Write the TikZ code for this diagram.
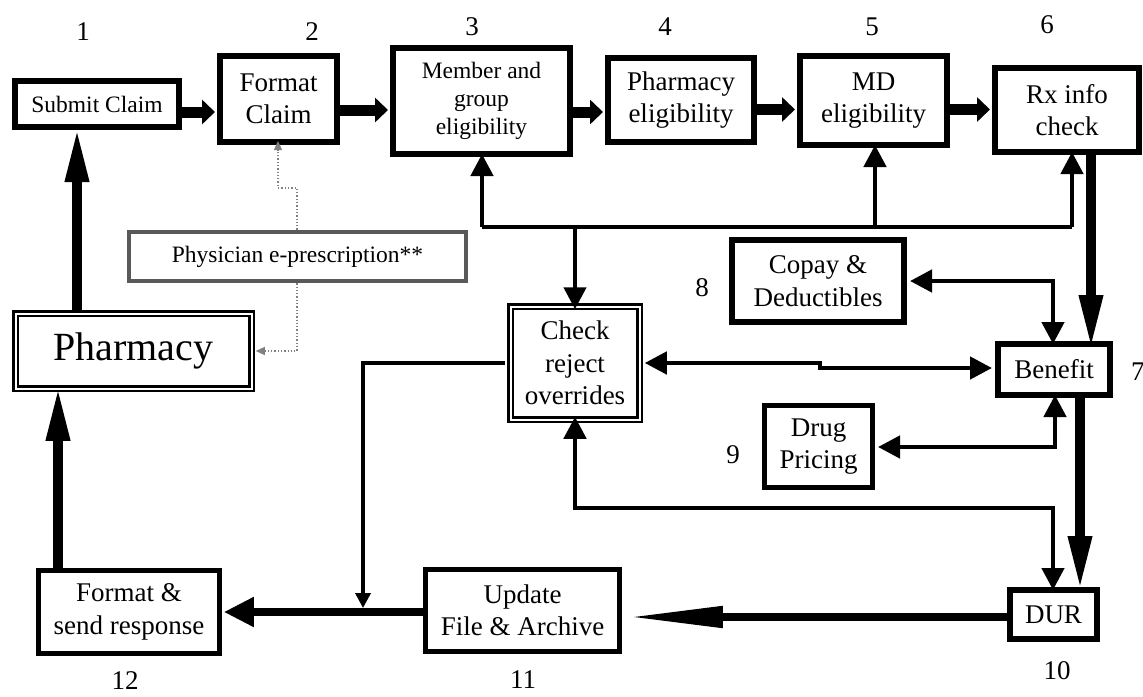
\documentclass[tikz,border=0pt]{standalone}
\usepackage{fontspec}
\setmainfont{Liberation Serif}
\usetikzlibrary{arrows.meta}

\begin{document}
\begin{tikzpicture}[x=1pt,y=-1pt,
  txt/.style={font=\fontsize{27}{32.5}\selectfont},
  smalltxt/.style={font=\fontsize{23.5}{28}\selectfont},
  box/.style={draw, line width=6pt, align=center, inner sep=0pt, txt},
  lbox/.style={box, line width=4.5pt},
  dbox/.style={draw, line width=2.5pt, double=white, double distance=2pt, align=center, inner sep=0pt, txt},
  gbox/.style={draw=black!65, line width=4.5pt, align=center, inner sep=0pt, smalltxt},
  num/.style={font=\fontsize{27}{30}\selectfont, inner sep=0pt},
  flow/.style={line width=11pt, -{Triangle[length=13pt,width=24pt]}},
  trunk/.style={line width=9.5pt, -{Triangle[length=54pt,width=22pt]}},
  link/.style={line width=4.5pt, {Triangle[length=22pt,width=22pt]}-{Triangle[length=22pt,width=22pt]}},
  onelink/.style={line width=4.5pt, -{Triangle[length=22pt,width=22pt]}},
  feed/.style={line width=3.5pt, -{Triangle[length=15pt,width=15pt]}},
  eprx/.style={draw=black!50, line width=1.3pt, dotted, -{Triangle[length=9pt,width=8pt,fill=black!50]}},
]
\useasboundingbox (0,0) rectangle (1143,696);

% process boxes
\node[box, smalltxt, minimum width=164pt, minimum height=46pt] (sub) at (97,104) {Submit Claim};
\node[box, minimum width=117pt, minimum height=86pt] (fmt) at (278.5,99) {Format\\Claim};
\node[box, smalltxt, minimum width=177pt, minimum height=106pt] (mem) at (481.5,101) {Member and\\group\\eligibility};
\node[box, minimum width=146pt, minimum height=84pt] (phe) at (681,100) {Pharmacy\\eligibility};
\node[box, minimum width=147pt, minimum height=89pt] (md) at (873.5,100.5) {MD\\eligibility};
\node[box, minimum width=144pt, minimum height=84pt] (rx) at (1067,110) {Rx info\\check};
\node[gbox, minimum width=337pt, minimum height=49pt] (phy) at (297.5,256.5) {Physician e-prescription**};
\node[dbox, font=\fontsize{40}{46}\selectfont, minimum width=236pt, minimum height=75pt] (pha) at (133.5,351) {Pharmacy};
\node[dbox, minimum width=129pt, minimum height=113pt] (chk) at (575,363) {Check\\reject\\overrides};
\node[box, minimum width=172pt, minimum height=82pt] (cop) at (818,281) {Copay \&\\Deductibles};
\node[box, minimum width=112pt, minimum height=51pt] (ben) at (1054,369.5) {Benefit};
\node[box, line width=5pt, minimum width=108pt, minimum height=82pt] (drg) at (818.5,446.5) {Drug\\Pricing};
\node[box, minimum width=87pt, minimum height=49pt] (dur) at (1053.5,614.5) {DUR};
\node[lbox, minimum width=194pt, minimum height=82pt] (upd) at (522.5,610.5) {Update\\File \& Archive};
\node[lbox, minimum width=181pt, minimum height=83pt] (rsp) at (129,612) {Format \&\\send response};

% step numbers
\node[num] (n1) at (83,32) {1};
\node[num] (n2) at (312,32) {2};
\node[num] (n3) at (472,27) {3};
\node[num] (n4) at (665,27) {4};
\node[num] (n5) at (872,27) {5};
\node[num] (n6) at (1047,25) {6};
\node[num, anchor=west] (n7) at (1131,372) {7};
\node[num] (n8) at (702,288) {8};
\node[num] (n9) at (733,455) {9};
\node[num] (n10) at (1057,671) {10};
\node[num] (n11) at (523,680) {11};
\node[num] (n12) at (125,681) {12};

% main claim flow across the top
\draw[flow] (sub.east |- 0,112) -- ([xshift=-2pt]fmt.west |- 0,112);
\draw[flow] (fmt.east |- 0,110) -- ([xshift=-2pt]mem.west |- 0,110);
\draw[flow] (mem.east |- 0,112) -- ([xshift=-2pt]phe.west |- 0,112);
\draw[flow] (phe.east |- 0,109.5) -- ([xshift=-2pt]md.west |- 0,109.5);
\draw[flow] (md.east |- 0,109.5) -- ([xshift=-2pt]rx.west |- 0,109.5);

% pharmacy in and out
\draw[trunk] (pha.north -| 77,0) -- ([yshift=2pt]sub.south -| 77,0);
\draw[trunk] (rsp.north -| 58,0) -- ([yshift=3pt]pha.south -| 58,0);

% e-prescription feeds
\draw[eprx] (phy.north -| 297,0) -- (297,188) -- (278,188) -- ([yshift=4pt]fmt.south -| 278,0);
\draw[eprx] (phy.south -| 297,0) -- (297,351) -- ([xshift=3pt]pha.east |- 0,351);

% reject-override bus
\coordinate (busL) at (482,227);
\coordinate (busR) at (1072,227);
\draw[line width=4.5pt] (busL) -- (busR);
\draw[onelink] (busL) -- ([yshift=3pt]mem.south -| busL);
\draw[onelink] (875,227) -- ([yshift=3pt]md.south -| 875,0);
\draw[onelink] (busR) -- ([yshift=3pt]rx.south -| busR);
\draw[onelink] (575,227) -- ([yshift=-4pt]chk.north);

% benefit step
\draw[trunk] (rx.south -| 1091,0) -- ([yshift=-8pt]ben.north -| 1091,0);
\draw[link] ([xshift=3pt]cop.east |- 0,281) -- (1053,281) -- ([yshift=-3pt]ben.north -| 1053,0);
\draw[link] ([xshift=4pt]chk.east) -- (820,363) -- (820,368) -- ([xshift=-3pt]ben.west |- 0,368);
\draw[link] ([xshift=3pt]drg.east |- 0,447) -- (1055,447) -- ([yshift=3pt]ben.south -| 1055,0);
\draw[link] ([yshift=4pt]chk.south) -- (575,508) -- (1053,508) -- ([yshift=-3pt]dur.north -| 1053,0);
\draw[trunk] (ben.south -| 1080,0) -- ([yshift=-3pt]dur.north -| 1080,0);

% response path
\draw[line width=8pt, -{Triangle[length=95pt,width=20pt]}] (dur.west |- 0,617) -- ([xshift=6pt]upd.east |- 0,617);
\draw[line width=8pt, -{Triangle[length=30pt,width=28pt]}] (upd.west |- 0,612) -- ([xshift=2pt]rsp.east |- 0,612);
\coordinate (join) at (363,608);
\draw[feed] ([xshift=-4pt]chk.west) -- (363,363) -- (join);
\end{tikzpicture}
\end{document}
